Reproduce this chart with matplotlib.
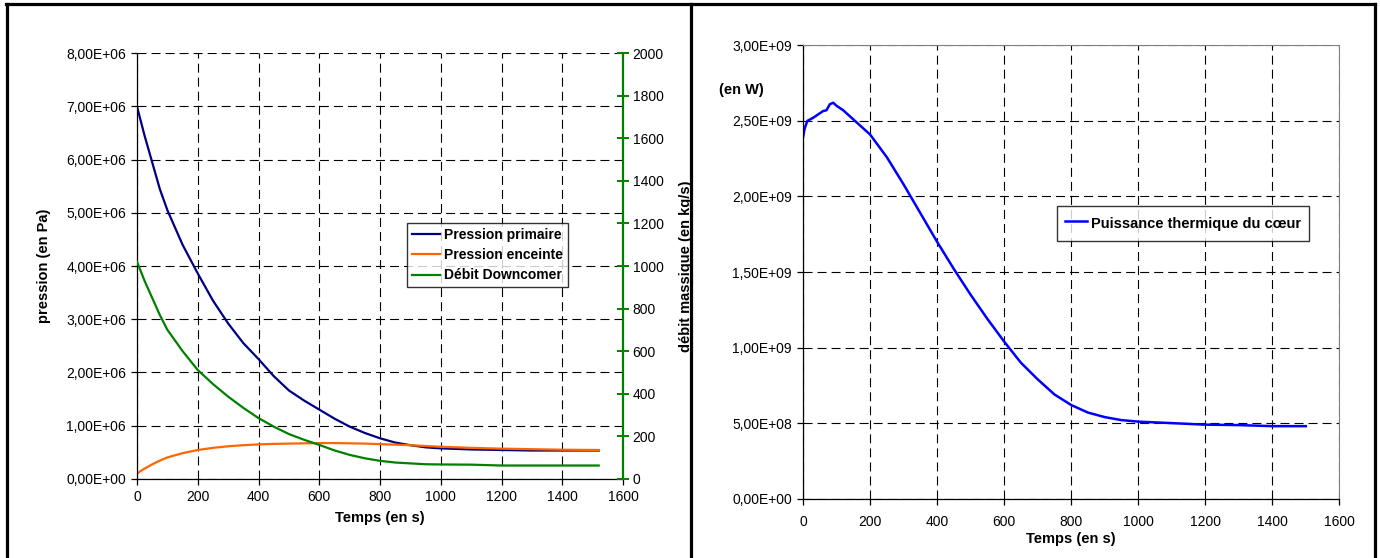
import matplotlib
matplotlib.use("Agg")
import matplotlib.pyplot as plt
from matplotlib.ticker import FuncFormatter, MultipleLocator
from matplotlib.lines import Line2D

plt.rcParams['font.family'] = ['Liberation Sans', 'DejaVu Sans']
plt.rcParams['font.size'] = 10
plt.rcParams['lines.scale_dashes'] = False

# ---- Left chart data ----
t_left = [0, 25, 50, 75, 100, 150, 200, 250, 300, 350, 400, 450, 500, 550, 600,
          650, 700, 750, 800, 850, 900, 950, 1000, 1100, 1200, 1300, 1400, 1520]
p_primaire = [7.0e6, 6.45e6, 5.95e6, 5.45e6, 5.05e6, 4.40e6, 3.86e6, 3.35e6, 2.92e6,
              2.55e6, 2.25e6, 1.93e6, 1.66e6, 1.47e6, 1.30e6, 1.13e6, 0.98e6, 0.86e6,
              0.76e6, 0.68e6, 0.63e6, 0.59e6, 0.57e6, 0.55e6, 0.54e6, 0.53e6, 0.53e6, 0.53e6]
p_enceinte = [0.10e6, 0.19e6, 0.27e6, 0.34e6, 0.40e6, 0.48e6, 0.54e6, 0.58e6, 0.61e6,
              0.63e6, 0.645e6, 0.655e6, 0.66e6, 0.665e6, 0.67e6, 0.67e6, 0.665e6, 0.66e6,
              0.65e6, 0.64e6, 0.63e6, 0.615e6, 0.60e6, 0.58e6, 0.565e6, 0.555e6, 0.545e6, 0.54e6]
debit = [1020, 930, 850, 770, 700, 600, 511, 445, 386, 333, 285, 245, 210, 183, 159,
         133, 112, 96, 84, 76, 72, 68, 67, 66, 62, 62, 62, 62]
left_labels = ["Pression primaire", "Pression enceinte", "Débit Downcomer"]

# ---- Right chart data ----
t_right = [0, 5, 13, 30, 60, 70, 80, 90, 100, 120, 150, 200, 250, 300, 350, 400, 450,
           500, 550, 600, 650, 700, 750, 800, 850, 900, 950, 1000, 1100, 1200, 1300, 1400, 1500]
puissance = [2.39e9, 2.45e9, 2.50e9, 2.52e9, 2.565e9, 2.57e9, 2.61e9, 2.62e9, 2.60e9,
             2.57e9, 2.51e9, 2.41e9, 2.26e9, 2.08e9, 1.89e9, 1.70e9, 1.52e9, 1.35e9,
             1.19e9, 1.04e9, 0.90e9, 0.79e9, 0.69e9, 0.62e9, 0.57e9, 0.54e9, 0.52e9,
             0.51e9, 0.50e9, 0.49e9, 0.487e9, 0.48e9, 0.48e9]
right_label = "Puissance thermique du cœur"

W, H = 1380, 558
fig = plt.figure(figsize=(W / 100, H / 100), dpi=100)


def sci_comma(v, pos):
    s = "%.2E" % v
    return s.replace(".", ",")


def box(x0, y0, x1, y1):
    return [x0 / W, 1 - y1 / H, (x1 - x0) / W, (y1 - y0) / H]


grid_kw = dict(color='black', linestyle=(0, (6.5, 3.6)), linewidth=0.8)

# ---------------- Left chart ----------------
ax1 = fig.add_axes(box(137, 53.3, 623, 478.7))
ax1.set_xlim(0, 1600)
ax1.set_ylim(0, 8e6)
l1, = ax1.plot(t_left, p_primaire, color='#000080', lw=1.6)
l2, = ax1.plot(t_left, p_enceinte, color='#FF6600', lw=1.6)
ax2 = ax1.twinx()
ax2.set_ylim(0, 2000)
l3, = ax2.plot(t_left, debit, color='#008000', lw=1.6)

ax1.xaxis.set_major_locator(MultipleLocator(200))
ax1.yaxis.set_major_locator(MultipleLocator(1e6))
ax1.yaxis.set_major_formatter(FuncFormatter(sci_comma))
ax2.yaxis.set_major_locator(MultipleLocator(200))
ax1.grid(True, **grid_kw)
ax1.set_axisbelow(True)
for s in ['top']:
    ax1.spines[s].set_visible(False)
    ax2.spines[s].set_visible(False)
ax1.spines['right'].set_visible(False)
ax2.spines['left'].set_visible(False)
ax2.spines['bottom'].set_visible(False)
ax2.spines['right'].set_color('#008000')
ax2.spines['right'].set_linewidth(1.6)
ax1.spines['left'].set_linewidth(0.9)
ax1.spines['bottom'].set_linewidth(0.9)
ax1.tick_params(axis='both', direction='out', length=4, width=0.9, labelsize=10, pad=4)
ax2.tick_params(axis='y', direction='inout', length=8, width=1.4, color='#008000',
                labelsize=10, pad=3)
ax1.set_xlabel("Temps (en s)", fontweight='bold', fontsize=10.5, labelpad=5)
ax1.set_ylabel("pression (en Pa)", fontweight='bold', fontsize=10.5, labelpad=11)
ax2.set_ylabel("débit massique (en kg/s)", fontweight='bold', fontsize=10.5, labelpad=11)

leg1 = ax2.legend([l1, l2, l3], left_labels, loc='upper left',
                  bbox_to_anchor=(0.556, 0.601), frameon=True, fancybox=False,
                  prop={'weight': 'bold', 'size': 10}, handlelength=2.0,
                  handletextpad=0.3, borderpad=0.35, labelspacing=0.45,
                  borderaxespad=0.0)
leg1.get_frame().set_edgecolor('black')
leg1.get_frame().set_linewidth(1.0)
leg1.set_zorder(10)

# ---------------- Right chart ----------------
ax3 = fig.add_axes(box(803, 45.3, 1339.3, 498.7))
ax3.set_xlim(0, 1600)
ax3.set_ylim(0, 3e9)
l4, = ax3.plot(t_right, puissance, color='#0000FF', lw=1.8)
ax3.xaxis.set_major_locator(MultipleLocator(200))
ax3.yaxis.set_major_locator(MultipleLocator(5e8))
ax3.yaxis.set_major_formatter(FuncFormatter(sci_comma))
ax3.grid(True, **grid_kw)
ax3.set_axisbelow(True)
ax3.spines['top'].set_color('#808080')
ax3.spines['right'].set_color('#808080')
ax3.spines['left'].set_linewidth(0.9)
ax3.spines['bottom'].set_linewidth(0.9)
ax3.tick_params(axis='y', direction='out', length=4, width=0.9, labelsize=10, pad=4)
ax3.tick_params(axis='x', direction='out', length=4, width=0.9, labelsize=10, pad=8)
ax3.set_xlabel("Temps (en s)", fontweight='bold', fontsize=10.5, labelpad=2)
fig.text(719 / W, 1 - 90 / H, "(en W)", fontweight='bold', fontsize=10.5,
         ha='left', va='center')
leg2 = ax3.legend([l4], [right_label], loc='upper left',
                  bbox_to_anchor=(0.473, 0.646), frameon=True, fancybox=False,
                  prop={'weight': 'bold', 'size': 10.5}, handlelength=1.55,
                  handleheight=1.6, handletextpad=0.27, borderpad=0.55,
                  borderaxespad=0.0)
leg2.get_frame().set_edgecolor('black')
leg2.get_frame().set_linewidth(1.0)

# ---------------- Panel borders ----------------
bw = 2.3
top_y = 1 - 4 / H
fig.add_artist(Line2D([6 / W, 1375 / W], [top_y, top_y], color='black', lw=bw,
                      transform=fig.transFigure))
for xp in [7, 691, 1375]:
    fig.add_artist(Line2D([xp / W, xp / W], [0, top_y], color='black', lw=bw,
                          transform=fig.transFigure))

fig.savefig("out.png", dpi=100)
